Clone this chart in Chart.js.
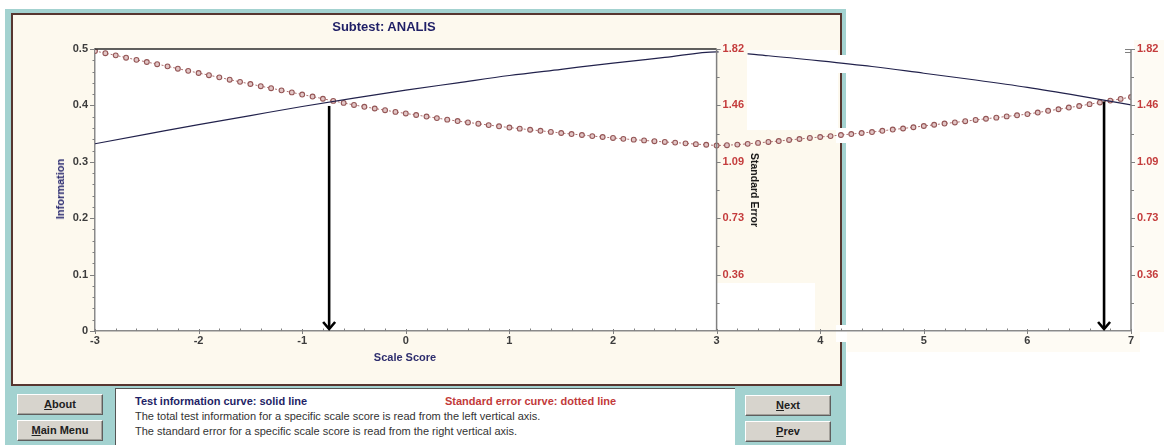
<!DOCTYPE html>
<html>
<head>
<meta charset="utf-8">
<script src="https://cdn.jsdelivr.net/npm/chart.js@4.4.1/dist/chart.umd.min.js"></script>
<style>
  html, body { margin: 0; padding: 0; background: #ffffff; width: 1166px; height: 445px; overflow: hidden;
    font-family: "Liberation Sans", Arial, sans-serif; }
  .abs { position: absolute; }
  #frame { left: 5px; top: 9px; width: 841px; height: 436px; background: #a3d2d0; }
  #panel { left: 11px; top: 13px; width: 827px; height: 369px; background: #fdf9ee; border: 2px solid #573630; }
  .white { background: #ffffff; }
  .cream { background: #fefbf4; }
  #chartCanvas { position: absolute; left: 0; top: 0; }
  .title { font-weight: bold; white-space: nowrap; }
  .btn { background: #d7d4cd; border: 1px solid; border-color: #ffffff #5e5e5e #5e5e5e #ffffff;
    box-shadow: inset -1px -1px 0 #a3a09a; box-sizing: border-box; text-align: center;
    font-size: 11px; font-weight: bold; color: #202020; }
  #info { left: 115px; top: 388px; width: 620px; height: 57px; background: #ffffff;
    border-top: 1px solid #555; border-left: 1px solid #555; box-sizing: border-box; }
  .line { font-size: 11px; white-space: nowrap; line-height: 14px; }
</style>
</head>
<body>
<div id="frame" class="abs"></div>
<div id="panel" class="abs"></div>
<!-- plot background and cleared strips around the extended axis -->
<div class="abs white" style="left:95px;top:49px;width:621px;height:282px;"></div>
<div class="abs white" style="left:747px;top:50px;width:91px;height:80px;"></div>
<div class="abs white" style="left:717px;top:283px;width:98px;height:48px;"></div>
<div class="abs white" style="left:836px;top:55px;width:11px;height:18px;"></div>
<div class="abs white" style="left:836px;top:128px;width:11px;height:15px;"></div>
<div class="abs white" style="left:836px;top:325px;width:11px;height:17px;"></div>
<div class="abs cream" style="left:1134px;top:40px;width:30px;height:292px;"></div>
<div class="abs cream" style="left:847px;top:332px;width:293px;height:20px;"></div>

<canvas id="chartCanvas" width="1166" height="445"></canvas>

<div class="abs title" style="left:384px;top:26px;transform:translate(-50%,-50%);font-size:13px;color:#1f1f66;">Subtest: ANALIS</div>
<div class="abs title" style="left:60px;top:189px;transform:translate(-50%,-50%) rotate(-90deg);font-size:11px;color:#2a2a70;">Information</div>
<div class="abs title" style="left:755px;top:190px;transform:translate(-50%,-50%) rotate(90deg);font-size:10.5px;color:#151515;">Standard Error</div>
<div class="abs title" style="left:405px;top:357px;transform:translate(-50%,-50%);font-size:11px;color:#2e2e6e;">Scale Score</div>

<div class="abs btn" style="left:17px;top:394px;width:86px;height:21px;line-height:19px;"><u>A</u>bout</div>
<div class="abs btn" style="left:17px;top:420px;width:86px;height:21px;line-height:19px;"><u>M</u>ain Menu</div>
<div class="abs btn" style="left:745px;top:395px;width:86px;height:21px;line-height:19px;"><u>N</u>ext</div>
<div class="abs btn" style="left:745px;top:421px;width:86px;height:21px;line-height:19px;"><u>P</u>rev</div>

<div id="info" class="abs"></div>
<div class="abs line" style="left:135px;top:394px;font-weight:bold;color:#1f1f66;">Test information curve: solid line</div>
<div class="abs line" style="left:445px;top:394px;font-weight:bold;color:#c23a3a;">Standard error curve: dotted line</div>
<div class="abs line" style="left:135px;top:409px;color:#333;">The total test information for a specific scale score is read from the left vertical axis.</div>
<div class="abs line" style="left:135px;top:424px;color:#333;">The standard error for a specific scale score is read from the right vertical axis.</div>

<script>
// Test information curve (left axis), sampled every half point of scale score
const infoScores = [-3, -2.5, -2, -1.5, -1, -0.5, 0, 0.5, 1, 1.5, 2, 2.5, 3, 3.5, 4, 4.5, 5, 5.5, 6, 6.5, 7];
const information = [0.332, 0.349, 0.366, 0.382, 0.398, 0.413, 0.427, 0.440, 0.453, 0.464, 0.475, 0.485, 0.495,
                     0.488, 0.479, 0.469, 0.457, 0.445, 0.432, 0.417, 0.401];

// Standard error curve (right axis), one marker every tenth of a point
const seScores = [-3.0, -2.9, -2.8, -2.7, -2.6, -2.5, -2.4, -2.3, -2.2, -2.1,
                  -2.0, -1.9, -1.8, -1.7, -1.6, -1.5, -1.4, -1.3, -1.2, -1.1,
                  -1.0, -0.9, -0.8, -0.7, -0.6, -0.5, -0.4, -0.3, -0.2, -0.1,
                  0.0, 0.1, 0.2, 0.3, 0.4, 0.5, 0.6, 0.7, 0.8, 0.9,
                  1.0, 1.1, 1.2, 1.3, 1.4, 1.5, 1.6, 1.7, 1.8, 1.9,
                  2.0, 2.1, 2.2, 2.3, 2.4, 2.5, 2.6, 2.7, 2.8, 2.9,
                  3.0, 3.1, 3.2, 3.3, 3.4, 3.5, 3.6, 3.7, 3.8, 3.9,
                  4.0, 4.1, 4.2, 4.3, 4.4, 4.5, 4.6, 4.7, 4.8, 4.9,
                  5.0, 5.1, 5.2, 5.3, 5.4, 5.5, 5.6, 5.7, 5.8, 5.9,
                  6.0, 6.1, 6.2, 6.3, 6.4, 6.5, 6.6, 6.7, 6.8, 6.9, 7.0];
const standardError = [1.807, 1.793, 1.779, 1.764, 1.750, 1.736, 1.722, 1.708, 1.693, 1.679,
                       1.665, 1.651, 1.637, 1.622, 1.608, 1.594, 1.580, 1.567, 1.553, 1.540,
                       1.526, 1.513, 1.499, 1.485, 1.472, 1.459, 1.447, 1.436, 1.425, 1.414,
                       1.404, 1.394, 1.384, 1.374, 1.364, 1.355, 1.346, 1.338, 1.329, 1.321,
                       1.313, 1.306, 1.299, 1.292, 1.285, 1.278, 1.271, 1.265, 1.258, 1.252,
                       1.246, 1.240, 1.235, 1.230, 1.225, 1.220, 1.216, 1.211, 1.206, 1.202,
                       1.197, 1.199, 1.203, 1.208, 1.214, 1.220, 1.226, 1.233, 1.239, 1.246,
                       1.252, 1.258, 1.265, 1.271, 1.278, 1.284, 1.292, 1.300, 1.307, 1.315,
                       1.323, 1.331, 1.339, 1.346, 1.354, 1.362, 1.370, 1.377, 1.385, 1.392,
                       1.400, 1.410, 1.421, 1.431, 1.442, 1.452, 1.464, 1.475, 1.487, 1.498, 1.510];

// Tick labels
const scoreTickLabels = ['-3', '-2', '-1', '0', '1', '2', '3', '4', '5', '6', '7'];
const infoTickLabels = ['0', '0.1', '0.2', '0.3', '0.4', '0.5'];
const seTickValues = [0.364, 0.728, 1.092, 1.456, 1.82];
const seTickLabels = ['0.36', '0.73', '1.09', '1.46', '1.82'];
const seAxisScores = [3, 7];          // where the standard error axis is drawn
const seMax = 1.82;

// Reading arrows: scale score and the information value they start from
const arrowScores = [-0.74, 6.74];
const arrowTops = [0.399, 0.407];

const tickColor = '#808080';
const labelFont = { family: 'Liberation Sans', size: 11, weight: 'bold' };

const axisExtras = {
  id: 'axisExtras',
  afterDatasetsDraw(chart) {
    const { ctx, scales } = chart;
    const x = scales.x, y = scales.y, yse = scales.yse;
    const y0 = y.getPixelForValue(0);
    ctx.save();

    // top edge of the plot box
    ctx.strokeStyle = '#2b2b2b';
    ctx.lineWidth = 1.5;
    ctx.beginPath();
    ctx.moveTo(x.getPixelForValue(-3), y.getPixelForValue(0.5));
    ctx.lineTo(x.getPixelForValue(3), y.getPixelForValue(0.5));
    ctx.stroke();

    // minor ticks on the score axis (inside) and major ticks (outside)
    ctx.strokeStyle = tickColor;
    ctx.lineWidth = 1;
    for (let k = 0; k <= 50; k++) {
      const v = -3 + k * 0.2;
      const px = Math.round(x.getPixelForValue(v)) + 0.5;
      ctx.beginPath();
      if (k % 5 === 0) { ctx.moveTo(px, y0 - 2); ctx.lineTo(px, y0 + 3); }
      else { ctx.moveTo(px, y0 - 2.5); ctx.lineTo(px, y0); }
      ctx.stroke();
    }
    // ticks on the information axis
    const lx = x.getPixelForValue(-3);
    for (let k = 0; k <= 25; k++) {
      const py = Math.round(y.getPixelForValue(k * 0.02)) + 0.5;
      ctx.beginPath();
      ctx.moveTo(lx - (k % 5 === 0 ? 5 : 2.5), py);
      ctx.lineTo(lx, py);
      ctx.stroke();
    }

    // standard error axes
    seAxisScores.forEach((s, idx) => {
      const ax = x.getPixelForValue(s);
      if (idx === 0) {
        // label background next to the inner axis
        ctx.fillStyle = '#fdf9ef';
        ctx.fillRect(ax + 2, yse.getPixelForValue(seMax) - 8, 29, 14);
      }
      ctx.strokeStyle = tickColor;
      ctx.lineWidth = 1.5;
      ctx.beginPath();
      ctx.moveTo(ax, yse.getPixelForValue(0));
      ctx.lineTo(ax, yse.getPixelForValue(seMax));
      ctx.stroke();
      ctx.lineWidth = 1;
      for (let k = 1; k <= 10; k++) {
        const py = Math.round(yse.getPixelForValue(seMax * k / 10)) + 0.5;
        ctx.beginPath();
        ctx.moveTo(ax, py);
        ctx.lineTo(ax + (k % 2 === 0 ? 4 : 3), py);
        ctx.stroke();
      }
      if (idx === 1) {
        const pt = yse.getPixelForValue(seMax);
        ctx.beginPath();
        ctx.moveTo(ax - 6, pt + 0.5); ctx.lineTo(ax, pt + 0.5);
        ctx.moveTo(ax - 6, pt + 3.5); ctx.lineTo(ax, pt + 3.5);
        ctx.stroke();
      }
      ctx.fillStyle = '#c43c3c';
      ctx.font = 'bold 11px "Liberation Sans", Arial, sans-serif';
      ctx.textAlign = 'left';
      ctx.textBaseline = 'middle';
      seTickValues.forEach((v, i) => {
        ctx.fillText(seTickLabels[i], ax + 6, yse.getPixelForValue(v));
      });
    });

    // reading arrows down to the score axis
    ctx.strokeStyle = '#000000';
    ctx.lineWidth = 2.6;
    ctx.lineCap = 'butt';
    arrowScores.forEach((s, i) => {
      const px = x.getPixelForValue(s);
      const top = y.getPixelForValue(arrowTops[i]);
      const tip = y0 - 2;
      ctx.beginPath();
      ctx.moveTo(px, top);
      ctx.lineTo(px, tip);
      ctx.stroke();
      ctx.beginPath();
      ctx.moveTo(px - 6, tip - 7);
      ctx.lineTo(px, tip);
      ctx.lineTo(px + 6, tip - 7);
      ctx.stroke();
    });
    ctx.restore();
  }
};

new Chart(document.getElementById('chartCanvas'), {
  type: 'line',
  data: {
    datasets: [
      {
        label: 'Test information',
        data: infoScores.map((s, i) => ({ x: s, y: information[i] })),
        yAxisID: 'y',
        borderColor: '#22224c',
        borderWidth: 1.2,
        pointRadius: 0,
        cubicInterpolationMode: 'monotone',
        fill: false
      },
      {
        label: 'Standard error',
        data: seScores.map((s, i) => ({ x: s, y: standardError[i] })),
        yAxisID: 'yse',
        borderColor: '#ad7070',
        borderWidth: 1,
        borderDash: [2, 2],
        pointRadius: 2.4,
        pointBorderWidth: 1.1,
        pointBorderColor: '#945656',
        pointBackgroundColor: '#e2c6c6',
        tension: 0,
        fill: false
      }
    ]
  },
  options: {
    responsive: false,
    animation: false,
    devicePixelRatio: 1,
    layout: { padding: { left: 0, top: 49, right: 35, bottom: 0 } },
    plugins: { legend: { display: false }, tooltip: { enabled: false }, title: { display: false } },
    scales: {
      x: {
        type: 'linear',
        min: -3, max: 7,
        grid: { display: false, drawTicks: false },
        border: { display: true, color: '#8a8a8a', width: 1.5 },
        ticks: {
          stepSize: 1, padding: 3, color: '#3c3c3c', font: labelFont, maxRotation: 0,
          callback: v => scoreTickLabels[Math.round(v) + 3]
        },
        afterFit: s => { s.height = 114; }
      },
      y: {
        position: 'left',
        min: 0, max: 0.5,
        grid: { display: false, drawTicks: false },
        border: { display: true, color: '#8a8a8a', width: 1.5 },
        ticks: {
          stepSize: 0.1, padding: 7, color: '#3c3c3c', font: labelFont,
          callback: v => infoTickLabels[Math.round(v * 10)]
        },
        afterFit: s => { s.width = 95; }
      },
      yse: {
        position: 'right',
        display: false,
        min: 0, max: seMax
      }
    }
  },
  plugins: [axisExtras]
});
</script>
</body>
</html>
